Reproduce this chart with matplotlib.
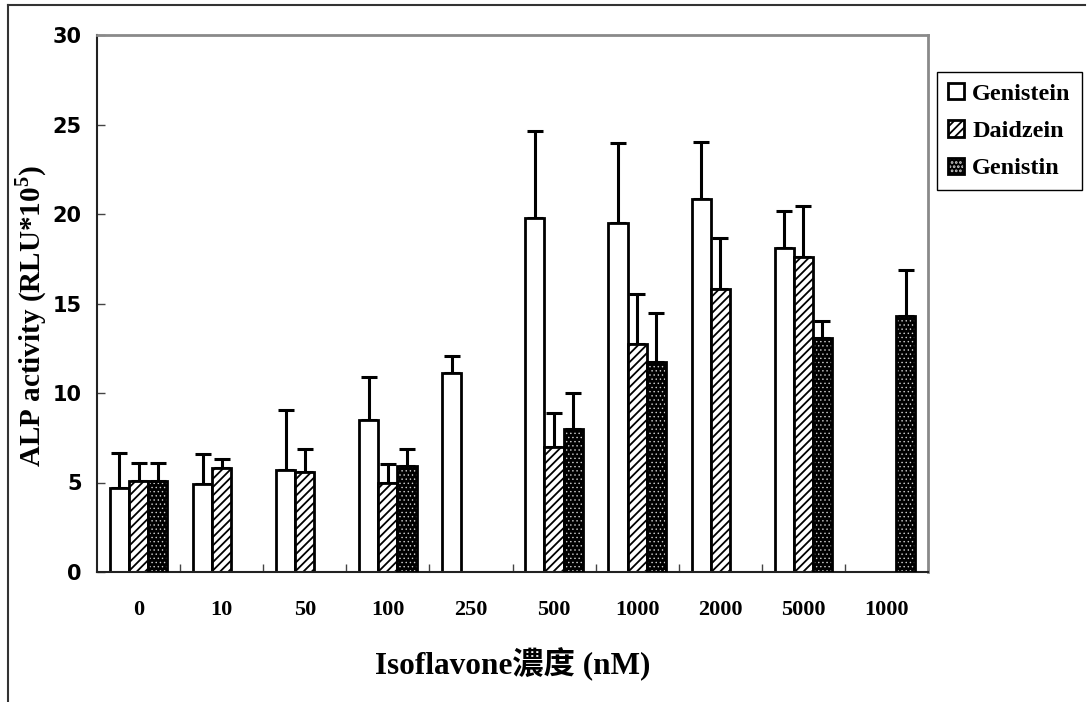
import numpy as np
import matplotlib
matplotlib.use('Agg')
import matplotlib.pyplot as plt
from matplotlib.patches import Patch
from matplotlib.lines import Line2D

nan = np.nan

categories = ['0', '10', '50', '100', '250', '500', '1000', '2000', '5000', '1000']
series = ['Genistein', 'Daidzein', 'Genistin']

genistein = [4.7, 4.9, 5.7, 8.5, 11.1, 19.75, 19.5, 20.85, 18.1, nan]
genistein_sd = [1.95, 1.7, 3.35, 2.4, 0.95, 4.9, 4.45, 3.2, 2.05, nan]
daidzein = [5.1, 5.8, 5.6, 4.95, nan, 7.0, 12.75, 15.8, 17.6, nan]
daidzein_sd = [1.0, 0.5, 1.25, 1.1, nan, 1.9, 2.8, 2.85, 2.85, nan]
genistin = [5.1, nan, nan, 5.9, nan, 8.0, 11.75, nan, 13.1, 14.3]
genistin_sd = [1.0, nan, nan, 0.95, nan, 2.0, 2.7, nan, 0.9, 2.55]

plt.rcParams['hatch.linewidth'] = 1.3
plt.rcParams['mathtext.fontset'] = 'custom'
plt.rcParams['mathtext.rm'] = 'Liberation Serif:bold'
plt.rcParams['mathtext.bf'] = 'Liberation Serif:bold'

serif = ['Liberation Serif', 'Noto Sans CJK TC']

fig = plt.figure(figsize=(10.87, 7.02), dpi=100)
ax = fig.add_axes([97 / 1087, 130 / 702, 831 / 1087, 537 / 702])

x = np.arange(len(categories))
w = 0.23
lw = 2.0

# Genistein - white bars
ax.bar(x - w, genistein, w, color='white', edgecolor='black', linewidth=lw, zorder=2)
# Daidzein - diagonal stripes
ax.bar(x, daidzein, w, color='white', edgecolor='black', hatch='////', linewidth=lw, zorder=2)
# Genistin - black with fine white dots
with plt.rc_context({'hatch.linewidth': 0.5}):
    ax.bar(x + w, genistin, w, color='black', edgecolor='#d0d0d0', hatch='....', linewidth=0, zorder=2)
    dots = Patch(facecolor='black', edgecolor='#d0d0d0', hatch='....', linewidth=0)
ax.bar(x + w, genistin, w, fill=False, edgecolor='black', linewidth=lw, zorder=3)

for off, vals, sd in [(-w, genistein, genistein_sd), (0, daidzein, daidzein_sd), (w, genistin, genistin_sd)]:
    sd = np.array(sd)
    ax.errorbar(x + off, vals, yerr=[np.zeros_like(sd), sd], fmt='none', ecolor='black',
                elinewidth=2.2, capsize=6, capthick=2.2, zorder=1)

ax.set_xlim(-0.5, len(categories) - 0.5)
ax.set_ylim(0, 30)
ax.set_yticks(np.arange(0, 31, 5))
ax.set_xticks(x)
ax.set_xticklabels(categories, family=serif, fontweight='bold', fontsize=16)
ax.set_xticks(np.arange(0.5, len(categories) - 0.5, 1), minor=True)
ax.tick_params(axis='x', which='major', length=0, pad=20)
ax.tick_params(axis='x', which='minor', direction='in', length=6, width=1, color='#444444')
ax.tick_params(axis='y', direction='in', length=6, width=1, pad=11, color='#444444')
for lab in ax.get_yticklabels():
    lab.set_family('DejaVu Sans')
    lab.set_fontweight('bold')
    lab.set_fontsize(15)

for s in ['left', 'bottom']:
    ax.spines[s].set_color('#222222')
    ax.spines[s].set_linewidth(1.5)
for s in ['top', 'right']:
    ax.spines[s].set_color('#8a8a8a')
    ax.spines[s].set_linewidth(2)

ax.set_ylabel(r'ALP activity (RLU*10$^{\mathbf{5}}$)', family=serif, fontweight='bold', fontsize=21)
ax.yaxis.set_label_coords(-0.058, 0.477)
ax.set_xlabel('Isoflavone濃度 (nM)', family=serif, fontweight='bold', fontsize=22.5)
ax.xaxis.set_label_coords(0.5, -0.14)

handles = [
    Patch(facecolor='white', edgecolor='black', linewidth=2),
    Patch(facecolor='white', edgecolor='black', hatch='////', linewidth=2),
    (dots, Patch(fill=False, edgecolor='black', linewidth=2)),
]
leg = fig.legend(handles, series, loc='upper left', bbox_to_anchor=(937 / 1087, 1 - 72 / 702),
                 frameon=True, fancybox=False, edgecolor='black', framealpha=1,
                 prop={'family': 'Liberation Serif', 'weight': 'bold', 'size': 17.5},
                 handlelength=0.65, handleheight=0.65, handletextpad=0.35,
                 labelspacing=0.65, borderpad=0.45, borderaxespad=0)
leg.get_frame().set_linewidth(1)

# outer chart border (top and left visible)
fig.add_artist(Line2D([8 / 1087, 1085 / 1087], [1 - 5 / 702, 1 - 5 / 702], color='#333333', linewidth=1.5))
fig.add_artist(Line2D([8 / 1087, 8 / 1087], [0, 1 - 5 / 702], color='#333333', linewidth=1.5))

fig.savefig('out.png', dpi=100)
